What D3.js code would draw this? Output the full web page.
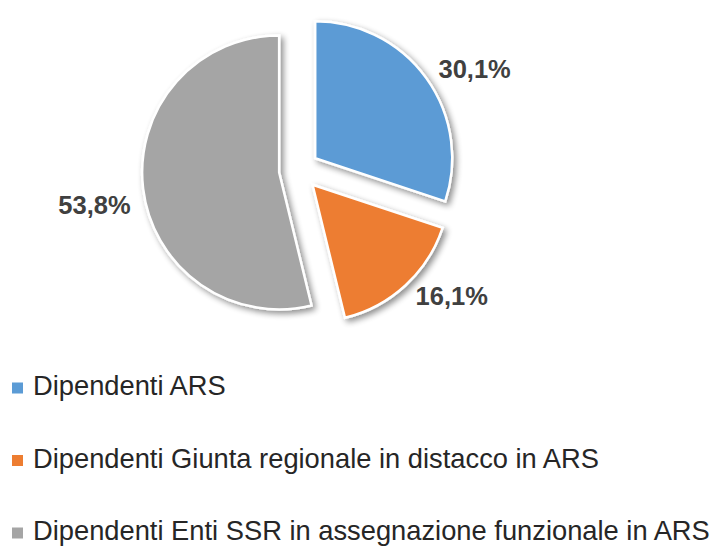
<!DOCTYPE html>
<html>
<head>
<meta charset="utf-8">
<script src="https://cdn.jsdelivr.net/npm/d3@7"></script>
<style>
  html, body { margin: 0; padding: 0; background: #fff; }
  svg { display: block; }
</style>
</head>
<body>
<svg id="chart" width="715" height="547"></svg>
<script>
// Composizione del personale in servizio presso l'ARS
const categories = [
  "Dipendenti ARS",
  "Dipendenti Giunta regionale in distacco in ARS",
  "Dipendenti Enti SSR in assegnazione funzionale in ARS"
];
const shares = [30.1, 16.1, 53.8];
const colors = ["#5B9BD5", "#ED7D31", "#A5A5A5"];

const W = 715, H = 547;
const cx = 299, cy = 170;
const radius = 137;
const explode = 20;
const labelGap = 15;
// small angular shift (degrees) applied to each label's placement
const labelShift = [0, 0, -5];

const svg = d3.select("#chart");

// soft drop shadow under the slices
const defs = svg.append("defs");
const f = defs.append("filter").attr("id", "shadow")
  .attr("x", "-20%").attr("y", "-20%").attr("width", "140%").attr("height", "140%");
f.append("feGaussianBlur").attr("in", "SourceAlpha").attr("stdDeviation", 3).attr("result", "b");
f.append("feOffset").attr("in", "b").attr("dx", 3).attr("dy", 3).attr("result", "o");
f.append("feComponentTransfer").attr("in", "o").attr("result", "s")
  .append("feFuncA").attr("type", "linear").attr("slope", 0.45);
const m = f.append("feMerge");
m.append("feMergeNode").attr("in", "s");
m.append("feMergeNode").attr("in", "SourceGraphic");

const pie = d3.pie().sort(null).value(d => d).startAngle(0).endAngle(2 * Math.PI);
const arcs = pie(shares);
const arc = d3.arc().innerRadius(0).outerRadius(radius);

const g = svg.append("g").attr("transform", `translate(${cx},${cy})`);

const mid = d => (d.startAngle + d.endAngle) / 2;

g.selectAll("path.slice")
  .data(arcs)
  .join("path")
  .attr("class", "slice")
  .attr("d", arc)
  .attr("transform", d => {
    const a = mid(d);
    return `translate(${Math.sin(a) * explode},${-Math.cos(a) * explode})`;
  })
  .attr("fill", (d, i) => colors[i])
  .attr("stroke", "#fff")
  .attr("stroke-width", 2.5)
  .attr("stroke-linejoin", "miter")
  .attr("filter", "url(#shadow)");

// percentage labels outside each slice
const fmt = v => v.toFixed(1).replace(".", ",") + "%";
const labelAngle = (d, i) => mid(d) + labelShift[i] * Math.PI / 180;
const labelR = radius + explode + labelGap;
g.selectAll("text.val")
  .data(arcs)
  .join("text")
  .attr("class", "val")
  .attr("x", (d, i) => Math.sin(labelAngle(d, i)) * labelR)
  .attr("y", (d, i) => -Math.cos(labelAngle(d, i)) * labelR)
  .attr("text-anchor", (d, i) => Math.sin(labelAngle(d, i)) >= 0 ? "start" : "end")
  .attr("dominant-baseline", "central")
  .attr("font-family", "'Liberation Sans', Arial, sans-serif")
  .attr("font-weight", "bold")
  .attr("font-size", 25.5)
  .attr("fill", "#404040")
  .text(d => fmt(d.data));

// legend
const legend = svg.append("g").attr("transform", "translate(12,388)");
const rowH = 72.5;
const legendSize = 27.3;
const items = legend.selectAll("g.item")
  .data(categories)
  .join("g")
  .attr("class", "item")
  .attr("transform", (d, i) => `translate(0,${i * rowH})`);
items.append("rect")
  .attr("x", 0).attr("y", -5.5)
  .attr("width", 11).attr("height", 11)
  .attr("fill", (d, i) => colors[i]);
const legendText = items.append("text")
  .attr("x", 21).attr("y", 7)
  .attr("font-family", "'Liberation Sans', Arial, sans-serif")
  .attr("font-size", legendSize)
  .attr("fill", "#262626")
  .text(d => d);

// keep the longest entry inside the canvas
let widest = 0;
legendText.each(function () { widest = Math.max(widest, this.getComputedTextLength()); });
const room = W - 12 - 21 - 2;
if (widest > room) legendText.attr("font-size", legendSize * room / widest);
</script>
</body>
</html>
